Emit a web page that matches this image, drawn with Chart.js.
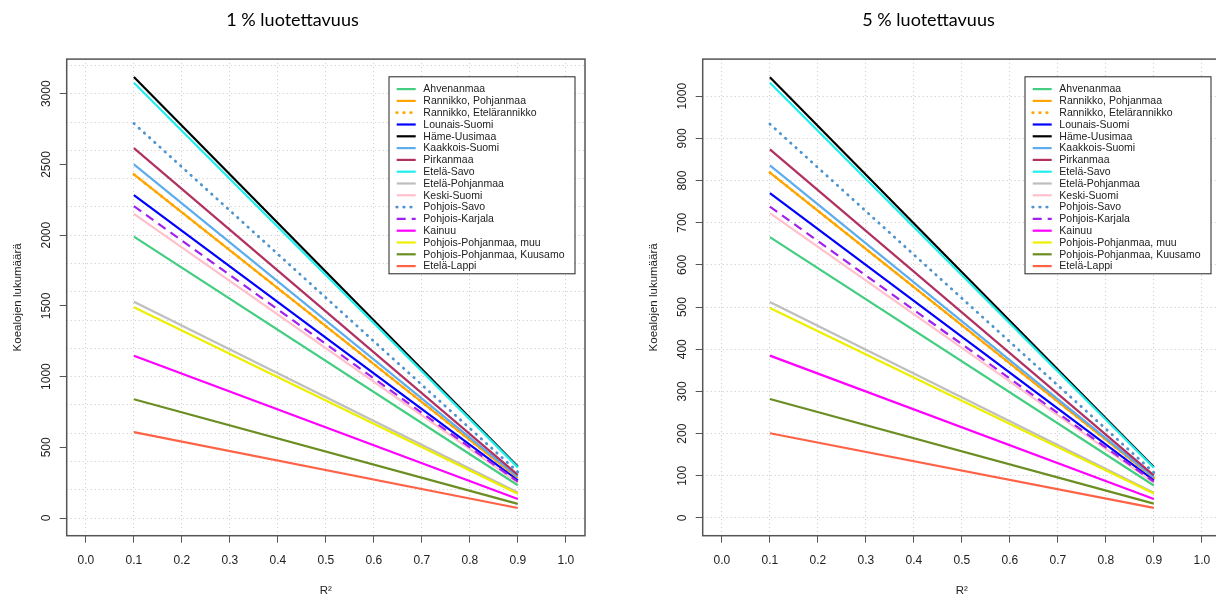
<!DOCTYPE html>
<html><head><meta charset="utf-8">
<script src="https://cdn.jsdelivr.net/npm/chart.js@4.4.1/dist/chart.umd.min.js"></script>
<style>
html,body{margin:0;padding:0;background:#fff;overflow:hidden;width:1216px;height:598px;}
#wrap{position:relative;width:1216px;height:598px;overflow:hidden;}
.c{position:absolute;top:0;width:608px;height:598px;}
#c1{left:0}
#c2{left:636px}
</style></head><body>
<div id="wrap">
  <div class="c" id="c1"><canvas id="ch1"></canvas></div>
  <div class="c" id="c2"><canvas id="ch2"></canvas></div>
</div>
<script>
// ---- data ----
const regions = ['Ahvenanmaa','Rannikko, Pohjanmaa','Rannikko, Etelärannikko','Lounais-Suomi','Häme-Uusimaa','Kaakkois-Suomi','Pirkanmaa','Etelä-Savo','Etelä-Pohjanmaa','Keski-Suomi','Pohjois-Savo','Pohjois-Karjala','Kainuu','Pohjois-Pohjanmaa, muu','Pohjois-Pohjanmaa, Kuusamo','Etelä-Lappi'];
const rSquared = [0.1, 0.9];
// 1 % luotettavuus: sample counts at R² = 0.1 and R² = 0.9
const conf1_r01 = [1990, 2430, 2430, 2283, 3118, 2500, 2615, 3078, 1530, 2150, 2790, 2205, 1148, 1490, 840, 607];
const conf1_r09 = [232, 283, 283, 266, 365, 292, 305, 358, 180, 251, 326, 257, 135, 172, 100, 71];
// 5 % luotettavuus
const conf5_r01 = [666, 819, 819, 770, 1045, 836, 874, 1032, 512, 723, 934, 738, 385, 498, 282, 201];
const conf5_r09 = [77, 95, 95, 89, 121, 97, 101, 119, 60, 84, 108, 86, 45, 58, 34, 24];
const titles = ['1 % luotettavuus', '5 % luotettavuus'];
const xTicks = [0.0,0.1,0.2,0.3,0.4,0.5,0.6,0.7,0.8,0.9,1.0];
const yTicks1 = [0,500,1000,1500,2000,2500,3000];
const yGrid1 = [0,200,400,600,800,1000,1200,1400,1600,1800,2000,2200,2400,2600,2800,3000,3200];
const yTicks2 = [0,100,200,300,400,500,600,700,800,900,1000];
const yGrid2 = yTicks2;

// ---- styles ----
const colors = ['#43CD80','#FFA500','#FFA500','#0000FF','#000000','#5CACEE','#B03060','#22EEEE','#BEBEBE','#FFC0CB','#4F94CD','#A020F0','#FF00FF','#EEEE00','#6B8E23','#FF6347'];
const dashes = {2:[0.5,6.5], 10:[0.5,6.5], 11:[9,6]};

function makeDatasets(cols){
  return regions.map((name,i)=>({
    label: name,
    data: rSquared.map((x,j)=>({x:x, y:cols[j][i]})),
    borderColor: colors[i],
    backgroundColor: colors[i],
    borderWidth: (dashes[i] && dashes[i][0]<1) ? 2.8 : 2.2,
    borderDash: dashes[i] || [],
    borderCapStyle: (dashes[i] && dashes[i][0]<1) ? 'round' : 'butt',
    pointRadius: 0,
    tension: 0,
    order: regions.length - i
  }));
}

const FONT = 'Liberation Sans, Arial, sans-serif';

const boxPlugin = {
  id:'boxFrame',
  afterDraw(chart){
    const ctx = chart.ctx, ca = chart.chartArea;
    ctx.save();
    ctx.strokeStyle = '#555'; ctx.lineWidth = 1.5;
    ctx.strokeRect(ca.left, ca.top, ca.right-ca.left, ca.bottom-ca.top);
    ctx.restore();
  }
};

const legendPlugin = {
  id:'boxLegend',
  afterDraw(chart){
    const ctx = chart.ctx, ca = chart.chartArea;
    const w = 186, h = 197;
    const right = ca.right - 10, top = ca.top + 17.7, left = right - w;
    ctx.save();
    ctx.fillStyle = '#fff'; ctx.fillRect(left, top, w, h);
    ctx.strokeStyle = '#222'; ctx.lineWidth = 1; ctx.setLineDash([]);
    ctx.strokeRect(left, top, w, h);
    chart.data.datasets.forEach((ds,i)=>{
      const y = top + 12.3 + i*11.8;
      ctx.beginPath();
      ctx.setLineDash(ds.borderDash || []);
      ctx.lineCap = ds.borderCapStyle || 'butt';
      ctx.strokeStyle = ds.borderColor; ctx.lineWidth = ds.borderWidth;
      ctx.moveTo(left+7.7, y); ctx.lineTo(left+26.7, y); ctx.stroke();
      ctx.setLineDash([]);
      ctx.fillStyle = '#222';
      ctx.font = '10.5px ' + FONT;
      ctx.textBaseline = 'middle'; ctx.textAlign = 'left';
      ctx.fillText(ds.label, left+34.3, y+0.5);
    });
    ctx.restore();
  }
};

function makeScales(yTicks, yGrid, ymin, ymax){
  return {
    x: {
      type:'linear', min:-0.04, max:1.04,
      afterBuildTicks: s => { s.ticks = xTicks.map(v=>({value:v})); },
      afterFit: s => { s.height = 62.3; },
      grid: {color:'#c8c8c8', lineWidth:1, drawTicks:true, tickLength:7, tickColor:'#555', tickWidth:1},
      border: {display:false, dash:[1,3]},
      ticks: {color:'#222', font:{family:FONT, size:12}, padding:11, minRotation:0, maxRotation:0,
              callback: v => Number(v).toFixed(1)},
      title: {display:true, text:'R²', color:'#222', font:{family:FONT, size:11.5}, padding:{top:0, bottom:0}}
    },
    y: {
      type:'linear', position:'left', min:ymin, max:ymax,
      afterBuildTicks: s => { s.ticks = yTicks.map(v=>({value:v})); },
      afterFit: s => { s.width = 66.7; },
      grid: {drawOnChartArea:false, drawTicks:true, tickLength:7, tickColor:'#555', tickWidth:1, color:'#555'},
      border: {display:false},
      ticks: {color:'#222', font:{family:FONT, size:12}, padding:0, minRotation:90, maxRotation:90, crossAlign:'center',
              callback: v => String(v)},
      title: {display:true, text:'Koealojen lukumäärä', color:'#222', font:{family:FONT, size:11.5}, padding:{top:10.6, bottom:0}}
    },
    yg: {
      type:'linear', position:'right', min:ymin, max:ymax,
      afterBuildTicks: s => { s.ticks = yGrid.map(v=>({value:v})); },
      afterFit: s => { s.width = 0; },
      grid: {drawOnChartArea:true, drawTicks:false, color:'#c8c8c8', lineWidth:1},
      border: {display:false, dash:[1,3]},
      ticks: {display:false}
    }
  };
}

function makeChart(id, title, cols, yTicks, yGrid, ymin, ymax){
  return new Chart(document.getElementById(id), {
    type:'line',
    data:{datasets: makeDatasets(cols)},
    options:{
      responsive:true, maintainAspectRatio:false, animation:false, devicePixelRatio:1,
      layout:{padding:{left:0, right:23, top:0, bottom:0}},
      plugins:{
        legend:{display:false}, tooltip:{enabled:false},
        title:{display:true, text:title, color:'#000', font:{family:'Lato', size:18, weight:'normal'}, padding:{top:9, bottom:28.5}}
      },
      scales: makeScales(yTicks, yGrid, ymin, ymax)
    },
    plugins:[boxPlugin, legendPlugin]
  });
}

makeChart('ch1', titles[0], [conf1_r01, conf1_r09], yTicks1, yGrid1, -125, 3245);
makeChart('ch2', titles[1], [conf5_r01, conf5_r09], yTicks2, yGrid2, -42, 1088);
</script>
</body></html>
